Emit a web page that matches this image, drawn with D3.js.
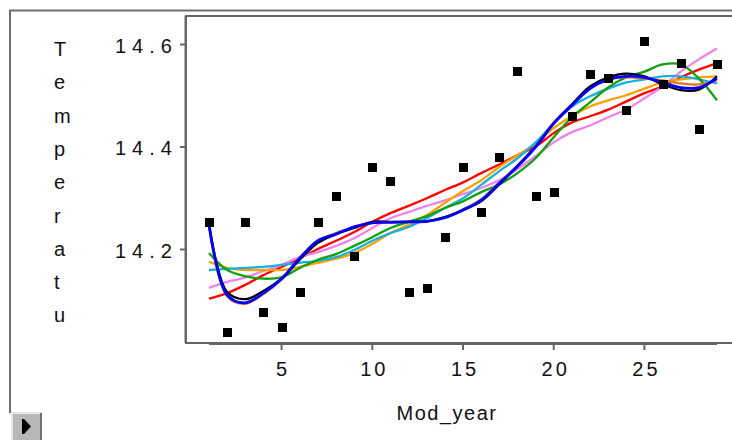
<!DOCTYPE html>
<html>
<head>
<meta charset="utf-8">
<script src="https://cdn.jsdelivr.net/npm/d3@7"></script>
<style>
  body { margin: 0; background: #fff; }
  svg { display: block; font-family: "Liberation Sans", Arial, sans-serif; }
</style>
</head>
<body>
<svg width="732" height="440"></svg>
<script>
// Temperatu vs Mod_year, with a bunch of smoothing fits on top

var modYear = [1, 2, 3, 4, 5, 6, 7, 8, 9, 10, 11, 12, 13, 14, 15, 16, 17, 18, 19, 20,
  21, 22, 23, 24, 25, 26, 27, 28, 29];

var temperatu = [14.254, 14.039, 14.254, 14.078, 14.049, 14.117, 14.254, 14.304, 14.187, 14.361,
  14.333, 14.117, 14.125, 14.224, 14.361, 14.273, 14.380, 14.549, 14.304, 14.312,
  14.460, 14.542, 14.534, 14.472, 14.606, 14.522, 14.563, 14.435, 14.561];

// fitted curves, one value per Mod_year
var fitRed = [14.104, 14.115, 14.131, 14.150, 14.166, 14.183, 14.201, 14.217, 14.234, 14.254,
  14.271, 14.285, 14.300, 14.316, 14.331, 14.349, 14.366, 14.384, 14.401, 14.427,
  14.448, 14.460, 14.473, 14.489, 14.505, 14.518, 14.536, 14.551, 14.563];
var fitViolet = [14.125, 14.137, 14.145, 14.158, 14.170, 14.185, 14.195, 14.207, 14.222, 14.242,
  14.261, 14.273, 14.285, 14.296, 14.308, 14.320, 14.335, 14.357, 14.382, 14.409,
  14.429, 14.442, 14.458, 14.473, 14.495, 14.518, 14.547, 14.571, 14.592];
var fitOrange = [14.176, 14.164, 14.160, 14.160, 14.160, 14.166, 14.174, 14.182, 14.193, 14.211,
  14.232, 14.248, 14.267, 14.291, 14.314, 14.335, 14.361, 14.384, 14.407, 14.437,
  14.460, 14.479, 14.491, 14.501, 14.514, 14.526, 14.532, 14.536, 14.538];
var fitCyan = [14.160, 14.162, 14.164, 14.166, 14.170, 14.174, 14.178, 14.185, 14.199, 14.217,
  14.232, 14.244, 14.261, 14.281, 14.300, 14.326, 14.353, 14.378, 14.409, 14.446,
  14.479, 14.499, 14.514, 14.526, 14.532, 14.538, 14.538, 14.532, 14.524];
var fitGreen = [14.193, 14.160, 14.148, 14.143, 14.146, 14.164, 14.180, 14.191, 14.207, 14.224,
  14.242, 14.254, 14.265, 14.281, 14.294, 14.312, 14.327, 14.349, 14.378, 14.419,
  14.458, 14.487, 14.516, 14.536, 14.547, 14.561, 14.561, 14.534, 14.491];
var fitDarkOrange = [14.246, 14.109, 14.094, 14.113, 14.141, 14.183, 14.217, 14.232, 14.244, 14.252,
  14.253, 14.254, 14.255, 14.263, 14.278, 14.298, 14.331, 14.364, 14.401, 14.448,
  14.483, 14.516, 14.532, 14.536, 14.534, 14.530, 14.524, 14.522, 14.530];
var fitBlack = [14.250, 14.117, 14.103, 14.119, 14.143, 14.180, 14.213, 14.230, 14.242, 14.254,
  14.254, 14.254, 14.255, 14.263, 14.277, 14.294, 14.327, 14.363, 14.401, 14.446,
  14.483, 14.518, 14.536, 14.543, 14.538, 14.522, 14.511, 14.512, 14.538];
var fitBlue = [14.248, 14.111, 14.096, 14.115, 14.143, 14.183, 14.217, 14.230, 14.244, 14.252,
  14.253, 14.254, 14.255, 14.262, 14.277, 14.296, 14.329, 14.362, 14.400, 14.446,
  14.481, 14.514, 14.532, 14.538, 14.536, 14.526, 14.516, 14.516, 14.534];

var fits = [fitRed, fitViolet, fitOrange, fitCyan, fitGreen, fitDarkOrange, fitBlack, fitBlue];
var fitColors = ["#ff0000", "#ee82ee", "#ffa000", "#18b0e0", "#10a010", "#dd7722", "#000000", "#0000ff"];

var xTicks = [5, 10, 15, 20, 25];
var yTicks = [14.2, 14.4, 14.6];
var yLabel = "Temperatu";
var xLabel = "Mod_year";

var svg = d3.select("svg");
var frameColor = "#666";

var xScale = d3.scaleLinear().domain([1, 29]).range([209, 717]);
var yScale = d3.scaleLinear().domain([14.2, 14.6]).range([249.5, 44.5]);

// outer window frame
svg.append("line").attr("x1", 10).attr("y1", 10).attr("x2", 10).attr("y2", 413)
  .attr("stroke", "#707070").attr("stroke-width", 2);
svg.append("line").attr("x1", 9).attr("y1", 10.5).attr("x2", 732).attr("y2", 10.5)
  .attr("stroke", "#707070").attr("stroke-width", 2);

// plot frame (runs off the right side)
svg.append("rect")
  .attr("x", 186).attr("y", 16)
  .attr("width", 600).attr("height", 327)
  .attr("fill", "#fff")
  .attr("stroke", frameColor).attr("stroke-width", 2);
svg.append("line").attr("x1", 185.5).attr("y1", 16).attr("x2", 185.5).attr("y2", 343)
  .attr("stroke", frameColor).attr("stroke-width", 2);

var g = svg.append("g");

// fits
fits.forEach(function(fit, i) {
  var line = d3.line()
    .x(function(d, j) { return xScale(modYear[j]); })
    .y(function(d) { return yScale(d); })
    .curve(d3.curveCatmullRom.alpha(0.5));
  g.append("path")
    .datum(fit)
    .attr("d", line)
    .attr("fill", "none")
    .attr("stroke", fitColors[i])
    .attr("stroke-width", i == 7 ? 2.8 : 2.3);
});

// data points
g.selectAll(".pt")
  .data(temperatu)
  .enter()
  .append("rect")
  .attr("class", "pt")
  .attr("x", function(d, i) { return Math.round(xScale(modYear[i])) - 4; })
  .attr("y", function(d) { return Math.round(yScale(d)) - 4; })
  .attr("width", 9)
  .attr("height", 9)
  .attr("fill", "#000")
  .attr("shape-rendering", "crispEdges");

// x axis
var xAxis = svg.append("g");
xAxis.append("line")
  .attr("x1", xScale(1)).attr("x2", xScale(29))
  .attr("y1", 344).attr("y2", 344)
  .attr("stroke", frameColor).attr("stroke-width", 2);
xAxis.selectAll(".xt")
  .data(xTicks)
  .enter()
  .append("line")
  .attr("x1", function(d) { return xScale(d); })
  .attr("x2", function(d) { return xScale(d); })
  .attr("y1", 344).attr("y2", 350)
  .attr("stroke", frameColor).attr("stroke-width", 2);
xAxis.selectAll(".xl")
  .data(xTicks)
  .enter()
  .append("text")
  .attr("x", function(d) { return xScale(d) + (d >= 10 ? 2 : 0); })
  .attr("y", 376)
  .attr("text-anchor", "middle")
  .attr("font-size", 20)
  .attr("letter-spacing", function(d) { return d >= 10 ? 3 : 0; })
  .attr("fill", "#111")
  .text(function(d) { return d; });

// y axis ticks
var yAxis = svg.append("g");
yAxis.selectAll(".yt")
  .data(yTicks)
  .enter()
  .append("line")
  .attr("x1", 180).attr("x2", 186)
  .attr("y1", function(d) { return yScale(d); })
  .attr("y2", function(d) { return yScale(d); })
  .attr("stroke", frameColor).attr("stroke-width", 2);
yAxis.selectAll(".yl")
  .data(yTicks)
  .enter()
  .append("text")
  .attr("x", 115)
  .attr("y", function(d) { return yScale(d) + 8; })
  .attr("font-size", 20)
  .attr("letter-spacing", 6)
  .attr("fill", "#111")
  .text(function(d) { return d3.format(".1f")(d); });

// axis titles
svg.append("text")
  .attr("x", 447).attr("y", 420)
  .attr("text-anchor", "middle")
  .attr("font-size", 20)
  .attr("letter-spacing", 1.5)
  .attr("fill", "#111")
  .text(xLabel);

svg.selectAll(".ylab")
  .data(yLabel.split(""))
  .enter()
  .append("text")
  .attr("x", 54)
  .attr("y", function(d, i) { return 56 + i * 33.3; })
  .attr("font-size", 20)
  .attr("fill", "#111")
  .text(function(d) { return d; });

// little play button in the corner
var btn = svg.append("g");
btn.append("rect").attr("x", 12).attr("y", 413).attr("width", 30).attr("height", 27)
  .attr("fill", "#b8b8b8");
btn.append("path").attr("d", "M12,440 L12,413 L42,413").attr("fill", "none")
  .attr("stroke", "#e8e8e8").attr("stroke-width", 2);
btn.append("path").attr("d", "M41,413 L41,440").attr("fill", "none")
  .attr("stroke", "#707070").attr("stroke-width", 2);
btn.append("rect").attr("x", 22).attr("y", 419).attr("width", 2).attr("height", 15).attr("fill", "#000");
btn.append("path").attr("d", "M24,419 L31,426.5 L24,434 Z").attr("fill", "#000");
</script>
</body>
</html>
